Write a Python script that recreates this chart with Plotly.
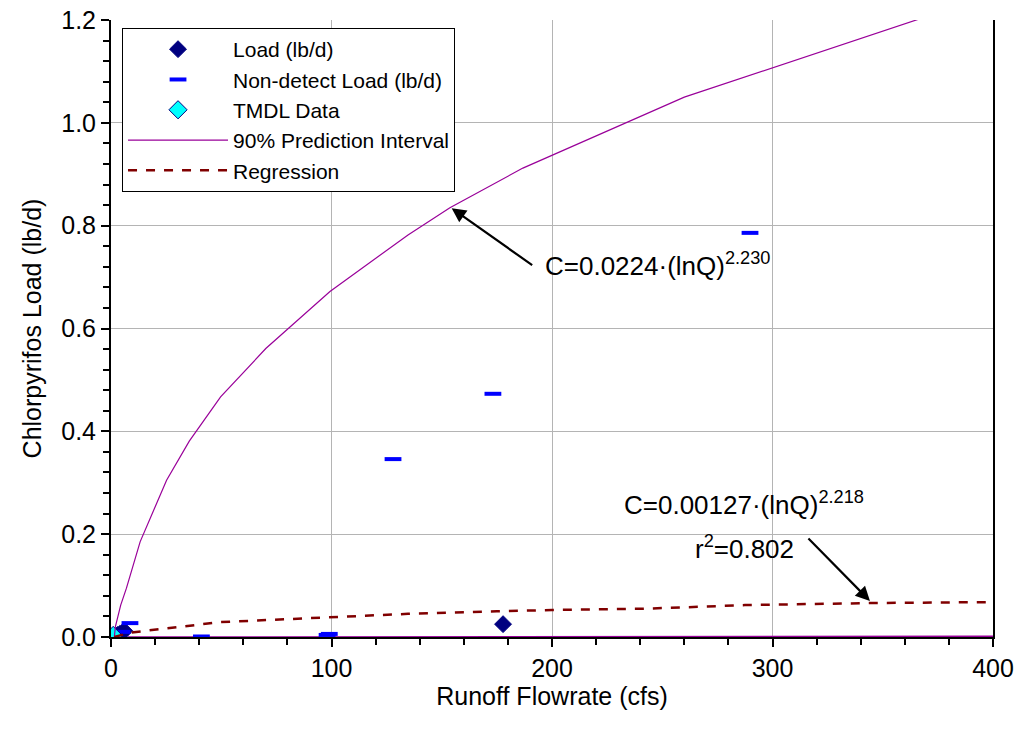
import plotly.graph_objects as go

# ---- data ----
load_x = [3.0, 4.0, 5.0, 6.0, 177.8]
load_y = [0.004, 0.006, 0.008, 0.012, 0.025]

nd_x = [5.0, 8.6, 41.0, 98.0, 99.0, 127.9, 173.2, 289.8]
nd_y = [0.010, 0.027, 0.001, 0.004, 0.006, 0.346, 0.473, 0.786]

tmdl_x = [1.0]
tmdl_y = [0.003]

pi_up_x = [1.5, 2.0, 4.4, 7.0, 13.2, 25.2, 35.5, 49.7, 70.2, 99.3, 134.7, 153.7, 186.8, 260.0, 375.0]
pi_up_y = [0.0, 0.02, 0.062, 0.095, 0.185, 0.305, 0.381, 0.467, 0.561, 0.672, 0.782, 0.835, 0.912, 1.05, 1.214]

pi_lo_x = [7.7, 49.7, 99.3, 186.8, 260.0, 375.0, 400.0]
pi_lo_y = [0.0, 0.0003, 0.0006, 0.001, 0.0012, 0.0015, 0.0016]

reg_x = [1.5, 8.6, 49.7, 99.3, 134.7, 175.0, 200.0, 242.0, 287.5, 344.0, 402.0]
reg_y = [0.0, 0.0085, 0.029, 0.039, 0.045, 0.050, 0.0525, 0.055, 0.062, 0.066, 0.068]

x_ticks = [0, 100, 200, 300, 400]
y_ticks = [0.0, 0.2, 0.4, 0.6, 0.8, 1.0, 1.2]
y_ticklabels = ["0.0", "0.2", "0.4", "0.6", "0.8", "1.0", "1.2"]

FONT = "Liberation Sans, Arial, sans-serif"

fig = go.Figure()

fig.add_trace(go.Scatter(
    x=pi_lo_x, y=pi_lo_y, mode="lines", showlegend=False,
    line=dict(color="#990099", width=1.5), hoverinfo="skip"))
fig.add_trace(go.Scatter(
    x=load_x, y=load_y, mode="markers", name="Load (lb/d)",
    marker=dict(symbol="diamond", size=13, color="#000080",
                line=dict(color="#000080", width=1))))
fig.add_trace(go.Scatter(
    x=nd_x, y=nd_y, mode="markers", name="Non-detect Load (lb/d)",
    marker=dict(symbol="line-ew", size=12, color="#0000FF",
                line=dict(color="#0000FF", width=4))))
fig.add_trace(go.Scatter(
    x=tmdl_x, y=tmdl_y, mode="markers", name="TMDL Data",
    marker=dict(symbol="diamond", size=14, color="#00FFFF",
                line=dict(color="#000080", width=1))))
fig.add_trace(go.Scatter(
    x=pi_up_x, y=pi_up_y, mode="lines", name="90% Prediction Interval",
    line=dict(color="#990099", width=1.2)))
fig.add_trace(go.Scatter(
    x=reg_x, y=reg_y, mode="lines", name="Regression",
    line=dict(color="#800000", width=2.5, dash="dash")))

# arrows (head at data point, tail offset in pixels)
fig.add_annotation(x=154.5, y=0.834, ax=82, ay=58, text="", showarrow=True,
                   arrowhead=2, arrowsize=1.3, arrowwidth=2.2, arrowcolor="black")
fig.add_annotation(x=344.2, y=0.070, ax=-63, ay=-64, text="", showarrow=True,
                   arrowhead=2, arrowsize=1.3, arrowwidth=2.2, arrowcolor="black")

fig.add_annotation(x=248, y=0.724, text="C=0.0224·(lnQ)<sup>2.230</sup>", showarrow=False,
                   font=dict(family=FONT, size=26, color="black"))
fig.add_annotation(x=287, y=0.260, text="C=0.00127·(lnQ)<sup>2.218</sup>", showarrow=False,
                   font=dict(family=FONT, size=26, color="black"))
fig.add_annotation(x=287.5, y=0.175, text="r<sup>2</sup>=0.802", showarrow=False,
                   font=dict(family=FONT, size=26, color="black"))

fig.update_layout(
    width=1021, height=738,
    margin=dict(l=111, r=28, t=20, b=101, autoexpand=False),
    paper_bgcolor="white", plot_bgcolor="white",
    font=dict(family=FONT, size=25, color="black"),
    legend=dict(x=0.0125, y=0.987, xanchor="left", yanchor="top",
                bgcolor="white", bordercolor="black", borderwidth=1,
                font=dict(family=FONT, size=21, color="black"),
                tracegroupgap=0, itemwidth=100),
    xaxis=dict(range=[0, 400], tickvals=x_ticks, showgrid=True, gridcolor="#b4b4b4",
               gridwidth=1, showline=True, linecolor="black", linewidth=2,
               ticks="outside", ticklen=8, tickcolor="black", tickwidth=1.5,
               minor=dict(dtick=20, ticks="outside", ticklen=6, tickcolor="black", showgrid=False),
               zeroline=False, mirror=False, automargin=False,
               title=dict(text="Runoff Flowrate (cfs)", font=dict(size=25), standoff=0),
               tickfont=dict(size=25)),
    yaxis=dict(range=[0, 1.2], tickvals=y_ticks, ticktext=y_ticklabels, showgrid=True,
               gridcolor="#b4b4b4", gridwidth=1, showline=True, linecolor="black", linewidth=2,
               mirror=True, automargin=False,
               ticks="outside", ticklen=8, tickcolor="black", tickwidth=1.5,
               minor=dict(dtick=0.04, ticks="outside", ticklen=6, tickcolor="black", showgrid=False),
               zeroline=False,
               title=dict(text="Chlorpyrifos Load (lb/d)", font=dict(size=25), standoff=12),
               tickfont=dict(size=25)),
)

fig.write_html("out.html")
